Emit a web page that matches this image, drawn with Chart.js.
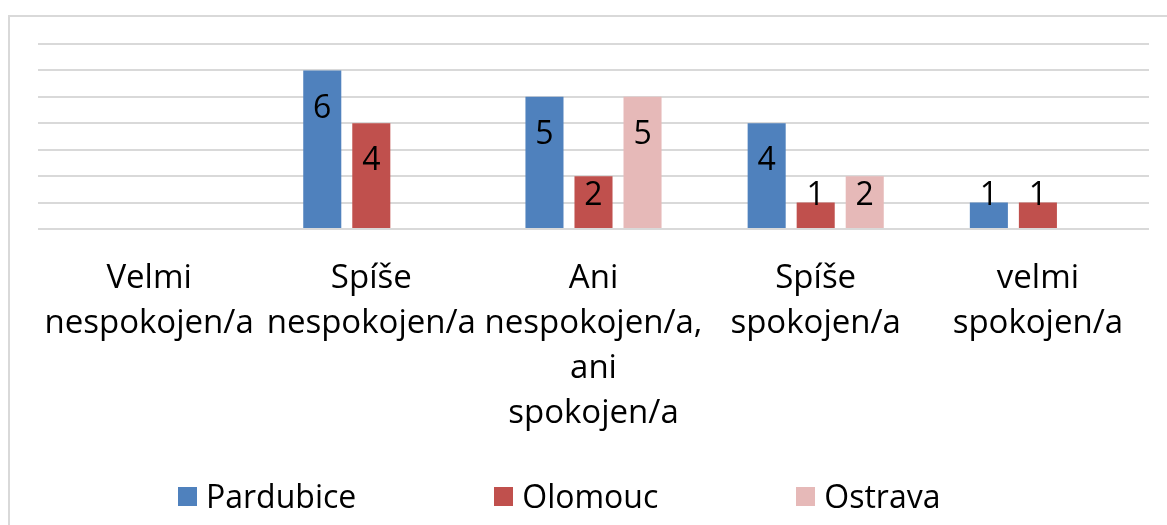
<!DOCTYPE html>
<html>
<head>
<meta charset="utf-8">
<script src="https://cdn.jsdelivr.net/npm/chart.js@4"></script>
<style>
  html,body{margin:0;padding:0;background:#fff;overflow:hidden}
  #wrap{position:relative;width:1167px;height:525px}
  #frame{position:absolute;left:8px;top:15px;right:-10px;bottom:-10px;border-left:2px solid #d9d9d9;border-top:2px solid #d9d9d9}
  canvas{position:absolute;left:0;top:0}
  #legend{position:absolute;left:178px;top:477px;display:flex;gap:138px;font:32px "Open Sans",sans-serif;color:#000}
  #legend span{display:flex;align-items:center;line-height:38px}
  #legend i{display:inline-block;width:19px;height:19px;margin-right:9px}
</style>
</head>
<body>
<div id="wrap">
  <div id="frame"></div>
  <canvas id="c" width="1167" height="525"></canvas>
  <div id="legend"></div>
</div>
<script>
const categories = [
  ['Velmi','nespokojen/a'],
  ['Spíše','nespokojen/a'],
  ['Ani','nespokojen/a,','ani','spokojen/a'],
  ['Spíše','spokojen/a'],
  ['velmi','spokojen/a']
];
const seriesNames = ['Pardubice','Olomouc','Ostrava'];
const pardubice = [0,6,5,4,1];
const olomouc = [0,4,2,1,1];
const ostrava = [0,0,5,2,0];
const colors = ['#4f81bd','#c0504d','#e6b9b8'];

// value labels near the top inside of each bar
const barLabels = {
  id:'barLabels',
  afterDatasetsDraw(chart){
    const {ctx} = chart;
    ctx.save();
    ctx.font = '32px "Open Sans", sans-serif';
    ctx.fillStyle = '#000';
    ctx.textAlign = 'center';
    ctx.textBaseline = 'middle';
    chart.data.datasets.forEach((ds, i) => {
      chart.getDatasetMeta(i).data.forEach((bar, j) => {
        const v = ds.data[j];
        if (!v) return;
        const y = Math.min(bar.y + 38, bar.base - 32);
        ctx.fillText(String(v), bar.x, y);
      });
    });
    ctx.restore();
  }
};

new Chart(document.getElementById('c'), {
  type:'bar',
  data:{ labels:categories, datasets:[
    { label:seriesNames[0], data:pardubice, backgroundColor:colors[0] },
    { label:seriesNames[1], data:olomouc, backgroundColor:colors[1] },
    { label:seriesNames[2], data:ostrava, backgroundColor:colors[2] }
  ]},
  options:{
    responsive:false, animation:false,
    categoryPercentage:.662, barPercentage:.776,
    layout:{ padding:{ left:38, right:18, top:44, bottom:90 } },
    plugins:{ legend:{display:false}, tooltip:{enabled:false} },
    scales:{
      x:{ grid:{display:false}, border:{display:false},
          afterFit(s){ s.height = 206; },
          ticks:{ color:'#000', padding:19, maxRotation:0, autoSkip:false,
                  font:{ family:'"Open Sans", sans-serif', size:33, lineHeight:'45px' } } },
      y:{ min:0, max:7, border:{display:false},
          ticks:{ display:false, stepSize:1 },
          grid:{ color:'#d9d9d9', lineWidth:2, drawTicks:false } }
    }
  },
  plugins:[barLabels]
});

const legend = document.getElementById('legend');
seriesNames.forEach((name, i) => {
  const s = document.createElement('span');
  s.innerHTML = '<i style="background:' + colors[i] + '"></i>' + name;
  legend.appendChild(s);
});
</script>
</body>
</html>
